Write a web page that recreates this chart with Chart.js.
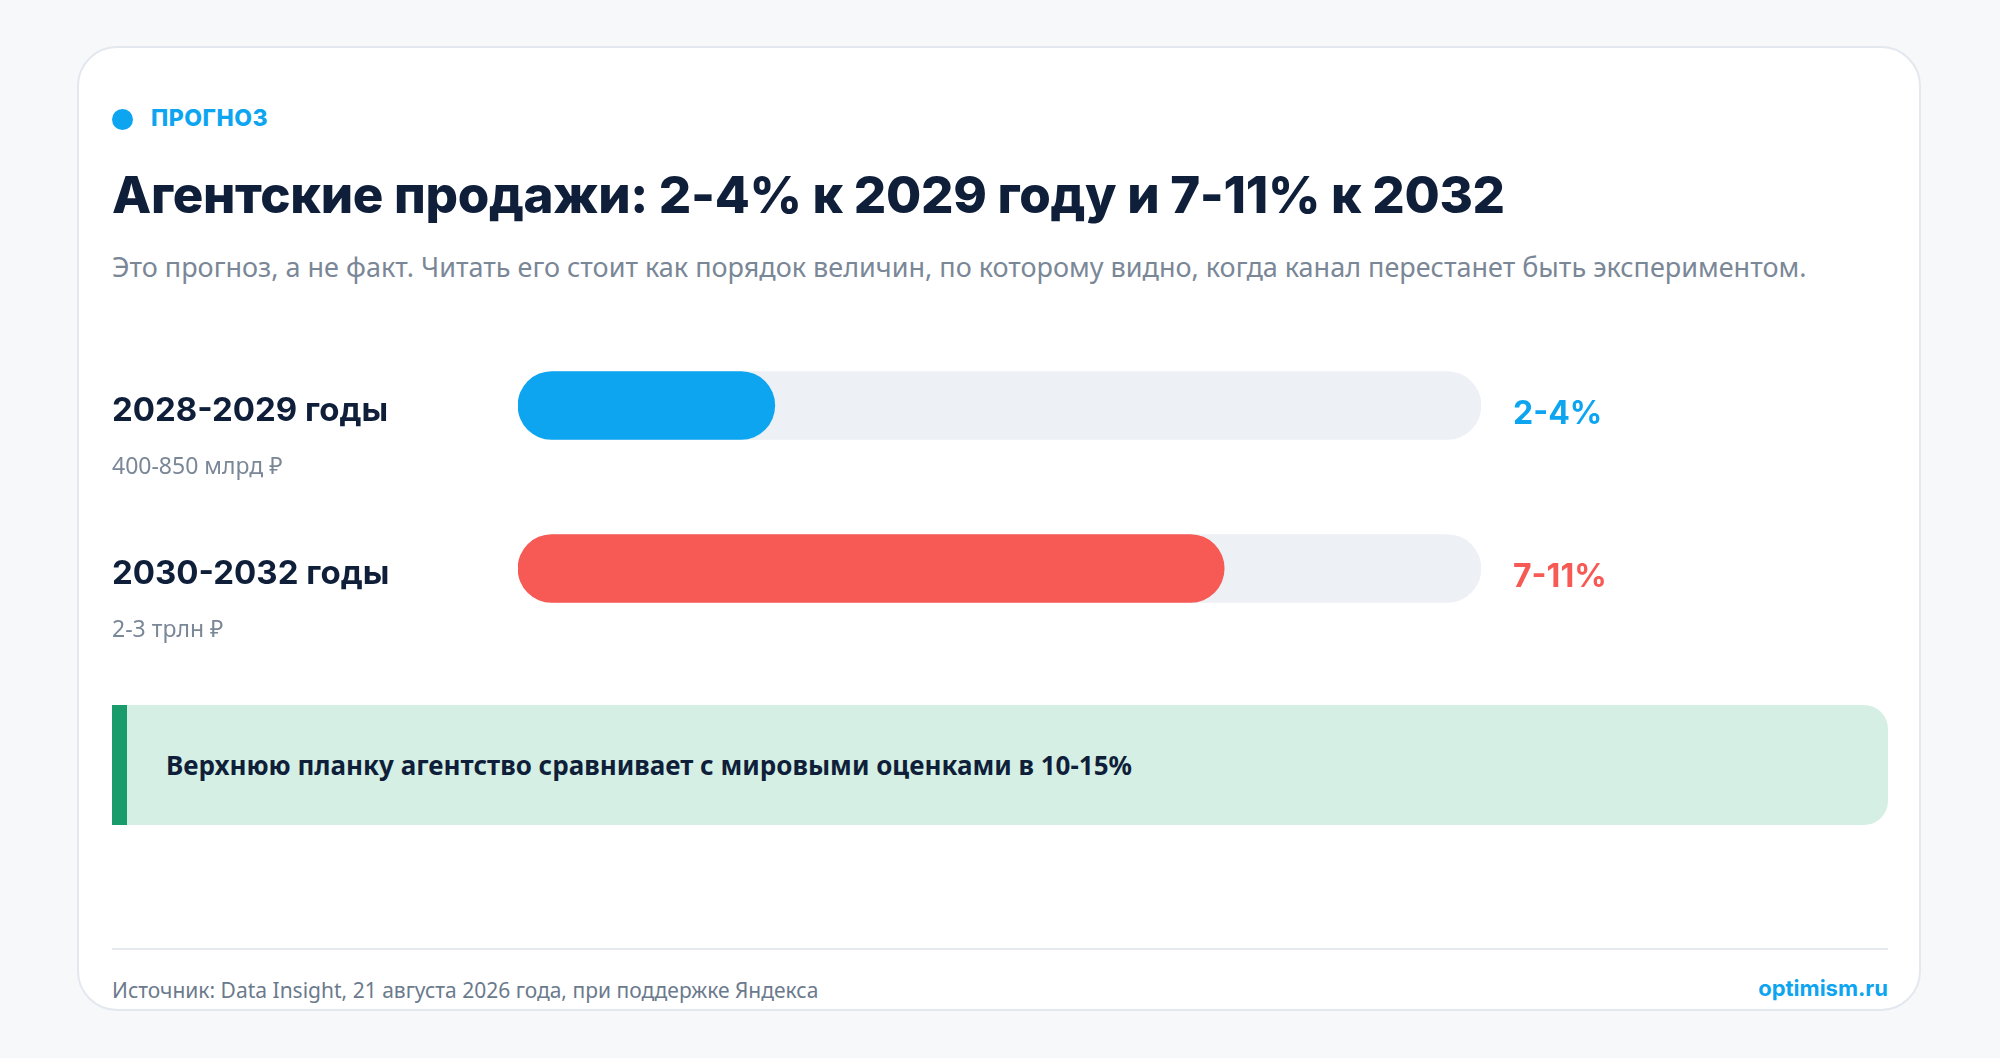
<!DOCTYPE html>
<html lang="ru">
<head>
<meta charset="utf-8">
<script src="https://cdn.jsdelivr.net/npm/chart.js@4"></script>
<style>
  html, body { margin: 0; padding: 0; }
  body { width: 2000px; height: 1058px; background: #f6f8fa; position: relative; font-family: "Noto Sans", Roboto, sans-serif; overflow: hidden; }
  .card { position: absolute; left: 77px; top: 46px; width: 1844px; height: 965px; background: #fff; border: 2px solid #e3e8ee; border-radius: 40px; box-sizing: border-box; }
  .abs { position: absolute; white-space: nowrap; }
  .tag { left: 151px; top: 104px; font: 800 23px Inter, sans-serif; color: #0ea5f0; letter-spacing: 0.5px; }
  .dot { left: 112px; top: 109px; width: 21px; height: 21px; border-radius: 50%; background: #0ea5f0; }
  .title { left: 112px; top: 164px; font: 800 51px Inter, sans-serif; color: #0f1f3a; letter-spacing: -0.3px; }
  .sub { left: 112px; top: 248px; font: 400 27px "Noto Sans", sans-serif; color: #7a8797; }
  .note { left: 112px; top: 705px; width: 1776px; height: 120px; background: #d6efe4; border-radius: 0 24px 24px 0; border-left: 15px solid #1a9b6c; box-sizing: border-box; }
  .note span { position: absolute; left: 39px; top: 42px; font: 700 26px "Noto Sans", sans-serif; color: #0f1f3a; }
  .rule { left: 112px; top: 948px; width: 1776px; height: 2px; background: #e6eaef; }
  .src { left: 112px; top: 976px; font: 400 21px "Noto Sans", sans-serif; color: #6b7a8c; }
  .brand { right: 112px; top: 975px; font: 700 22px Inter, sans-serif; color: #0ea5f0; }
  #wrap { position: absolute; left: 112px; top: 324px; width: 1776px; height: 326px; }
</style>
</head>
<body>
<div class="card"></div>
<div class="abs dot"></div>
<div class="abs tag">ПРОГНОЗ</div>
<div class="abs title">Агентские продажи: 2-4% к 2029 году и 7-11% к 2032</div>
<div class="abs sub">Это прогноз, а не факт. Читать его стоит как порядок величин, по которому видно, когда канал перестанет быть экспериментом.</div>
<div id="wrap"><canvas id="bars"></canvas></div>
<div class="abs note"><span>Верхнюю планку агентство сравнивает с мировыми оценками в 10-15%</span></div>
<div class="abs rule"></div>
<div class="abs src">Источник: Data Insight, 21 августа 2026 года, при поддержке Яндекса</div>
<div class="abs brand">optimism.ru</div>
<script>
const periods = ["2028-2029 годы", "2030-2032 годы"];
const volumes = ["400-850 млрд ₽", "2-3 трлн ₽"];
const shareLabels = ["2-4%", "7-11%"];
const shareUpper = [4, 11];
const scaleMax = 15;
const barColors = ["#0ea5f0", "#f75a55"];

const sideText = {
  id: "sideText",
  afterDatasetsDraw(chart) {
    const { ctx, scales: { y }, chartArea } = chart;
    ctx.save();
    ctx.textBaseline = "middle";
    periods.forEach((p, i) => {
      const cy = y.getPixelForValue(i);
      ctx.textAlign = "left";
      ctx.fillStyle = "#0f1f3a";
      ctx.font = "700 33px Inter, sans-serif";
      ctx.fillText(p, 0, cy + 6);
      ctx.fillStyle = "#7a8797";
      ctx.font = "400 23px 'Noto Sans', sans-serif";
      ctx.fillText(volumes[i], 0, cy + 62);
      ctx.fillStyle = barColors[i];
      ctx.font = "700 32px Inter, sans-serif";
      ctx.fillText(shareLabels[i], chartArea.right + 32, cy + 9);
    });
    ctx.restore();
  }
};

new Chart(document.getElementById("bars"), {
  type: "bar",
  data: {
    labels: periods,
    datasets: [
      {
        data: shareUpper,
        backgroundColor: barColors,
        borderRadius: 34,
        borderSkipped: false,
        barThickness: 68,
        grouped: false,
        order: 0
      },
      {
        data: periods.map(() => scaleMax),
        backgroundColor: "#edf0f5",
        borderRadius: 34,
        borderSkipped: false,
        barThickness: 68,
        grouped: false,
        order: 1
      }
    ]
  },
  options: {
    indexAxis: "y",
    responsive: true,
    maintainAspectRatio: false,
    animation: false,
    layout: { padding: { left: 406, right: 407, top: 0, bottom: 0 } },
    plugins: { legend: { display: false }, tooltip: { enabled: false } },
    scales: {
      x: { min: 0, max: scaleMax, display: false },
      y: { display: false }
    }
  },
  plugins: [sideText]
});
</script>
</body>
</html>
